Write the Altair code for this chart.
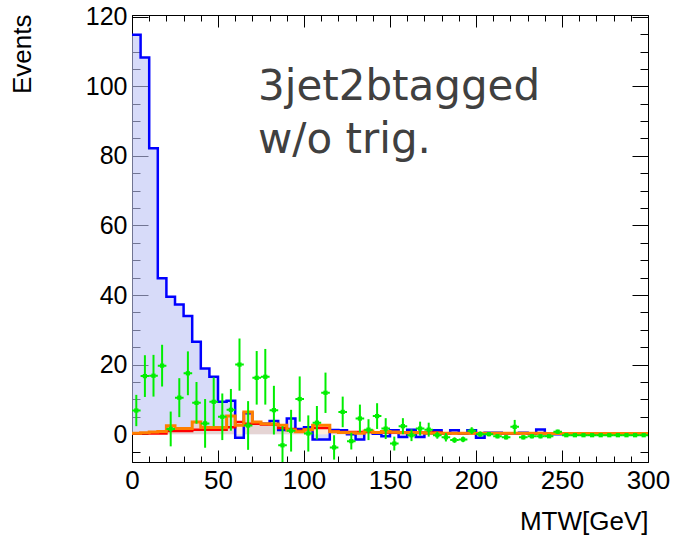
import altair as alt
import pandas as pd

# ---------------- data ----------------
bin_lo = list(range(0, 300, 5))  # 5 GeV bins, 0..300

blue = [114.8, 108.3, 82.2, 44.8, 39.5, 37.3, 34.0, 26.6, 18.9, 16.5,
        9.3, 9.6, -1.0, 6.0, 3.0, 3.0, 3.8, 1.2, 4.5, 1.5,
        2.0, -1.5, -1.5, 1.2, 1.15, 0.0, -1.5, 0.7, 0.1, -0.6,
        1.15, -0.8, 1.3, -0.8, 0.3, 1.15, 0.2, 1.15, 0.2, 1.15,
        -1.0, 0.4, 0.4, 0.2, 0.2, 0.4, 0.1, 1.35, 0.0, 0.0,
        0.0, 0.0, 0.0, 0.0, 0.0, 0.0, 0.0, 0.0, 0.0, 0.0]

orange = [0.3, 0.4, 0.6, 0.8, 2.4, 1.6, 1.6, 3.5, 1.9, 1.9,
          1.9, 5.2, 2.6, 6.4, 3.5, 3.0, 2.9, 2.6, 1.2, 0.7,
          1.3, 2.6, 2.6, 0.7, 0.5, 0.4, 0.3, 0.9, 0.5, 0.8,
          0.6, 0.4, 0.5, 0.4, 0.3, 0.3, 0.3, 0.3, 0.3, 0.3,
          0.3, 0.3, 0.3, 0.3, 0.3, 0.3, 0.3, 0.3, 0.2, 0.2,
          0.2, 0.2, 0.2, 0.2, 0.2, 0.2, 0.2, 0.2, 0.2, 0.2]

red = [0.2, 0.2, 0.2, 0.2, 0.9, 0.9, 0.9, 1.3, 1.3, 1.3,
       1.3, 2.0, 3.5, 3.0, 3.0, 2.8, 2.8, 1.8, 1.5, 1.0,
       1.3, 1.8, 1.8, 0.8, 0.6, 0.6, 0.6, 0.6, 0.5, 0.5,
       0.5, 0.5, 0.5, 0.5, 0.5, 0.5, 0.3, 0.3, 0.3, 0.3,
       0.3, 0.3, 0.3, 0.3, 0.3, 0.3, 0.3, 0.3, 0.2, 0.2,
       0.2, 0.2, 0.2, 0.2, 0.2, 0.2, 0.2, 0.2, 0.2, 0.2]

green = [6.8, 16.7, 16.8, 19.7, 1.5, 10.5, 17.5, 9.0, 3.1, 9.3,
         5.0, 7.0, 20.0, 2.5, 16.2, 16.5, 6.9, -3.2, 1.0, 10.1,
         0.2, 3.3, 11.9, -3.8, 6.4, -2.0, 4.5, 1.3, 5.2, 1.6,
         -2.7, 2.3, -0.3, 1.6, 1.3, -0.3, -0.9, -1.7, -1.5, 1.0,
         0.0, 0.0, -0.6, -0.9, 2.1, -0.9, -0.6, -0.6, -0.6, 0.7,
         -0.3, -0.3, -0.3, -0.3, -0.3, -0.3, -0.3, -0.3, -0.3, -0.3]

green_err = [4.5, 6.0, 6.0, 6.0, 5.0, 5.6, 6.3, 6.0, 7.0, 7.0,
             6.7, 6.0, 7.5, 7.0, 7.7, 8.0, 7.0, 5.5, 6.0, 6.5,
             5.2, 4.8, 5.8, 3.5, 4.4, 2.4, 4.0, 3.0, 3.7, 3.0,
             2.0, 2.3, 1.7, 2.0, 2.0, 1.0, 1.2, 0.8, 0.8, 1.0,
             0.8, 0.6, 0.6, 0.6, 2.0, 0.6, 0.6, 0.6, 0.5, 0.6,
             0.4, 0.4, 0.4, 0.4, 0.4, 0.4, 0.4, 0.4, 0.4, 0.4]

x_major = [0, 50, 100, 150, 200, 250, 300]
x_minor = list(range(0, 301, 10))
y_major = [0, 20, 40, 60, 80, 100, 120]
y_minor = list(range(-5, 121, 5))

annotation = ["3jet2btagged\nw/o trig."]

# ---------------- tables ----------------
bin_w = 5
edges = bin_lo + [300]
hist = pd.DataFrame({
    "x": edges,
    "blue": blue + [blue[-1]],
    "orange": orange + [orange[-1]],
    "red": red + [red[-1]],
})
pts = pd.DataFrame({
    "lo": bin_lo,
    "hi": [b + bin_w for b in bin_lo],
    "c": [b + bin_w / 2 for b in bin_lo],
    "v": green,
    "ylo": [v - e for v, e in zip(green, green_err)],
    "yhi": [v + e for v, e in zip(green, green_err)],
})

# ---------------- scales & axes ----------------
xs = alt.Scale(domain=[0, 300], nice=False, zero=False)
ys = alt.Scale(domain=[-8, 120.5], nice=False, zero=False)
FONT = "Liberation Sans"


def ax(orient, values, size, labels=False, **kw):
    return alt.Axis(orient=orient, values=values, tickSize=size, offset=-size,
                    domain=False, grid=False, labels=labels, tickColor="black",
                    tickWidth=1, **kw)


x_bot_major = ax("bottom", x_major, 12, labels=True, labelFont=FONT,
                 labelFontSize=26, labelColor="black", labelPadding=5,
                 labelFlush=False, labelOverlap=False,
                 title="MTW[GeV]", titleFont=FONT, titleFontSize=26,
                 titleFontWeight="normal", titleColor="black",
                 titleAlign="right", titleBaseline="alphabetic",
                 titleX=516, titleY=79, titleAngle=0)
y_left_major = ax("left", y_major, 16, labels=True, labelFont=FONT,
                  labelFontSize=25, labelColor="black", labelPadding=5,
                  labelFlush=False, labelOverlap=False,
                  title="Events", titleFont=FONT, titleFontSize=26,
                  titleFontWeight="normal", titleColor="black",
                  titleAngle=270, titleAlign="right",
                  titleBaseline="alphabetic", titleX=-118, titleY=-1)
x_bot_minor = ax("bottom", x_minor, 6, title=None)
y_left_minor = ax("left", y_minor, 8, title=None)
x_top_major = ax("top", x_major, 12, title=None)
y_right_major = ax("right", y_major, 16, title=None)
x_top_minor = ax("top", x_minor, 6, title=None)
y_right_minor = ax("right", y_minor, 8, title=None)

base = alt.Chart(hist)

blue_area = base.mark_area(interpolate="step-after", color="#bcc3f5",
                           opacity=0.6).encode(
    x=alt.X("x:Q", scale=xs, axis=x_bot_major),
    y=alt.Y("blue:Q", scale=ys, axis=y_left_major),
    y2=alt.datum(0),
)
orange_area = base.mark_area(interpolate="step-after", color="#ffc890",
                             opacity=0.35).encode(
    x=alt.X("x:Q", scale=xs, axis=None),
    y=alt.Y("orange:Q", scale=ys, axis=None),
    y2=alt.datum(0),
)
blue_line = base.mark_line(interpolate="step-after", color="#0000ff",
                           strokeWidth=2.5).encode(
    x=alt.X("x:Q", scale=xs, axis=x_bot_minor),
    y=alt.Y("blue:Q", scale=ys, axis=y_left_minor),
)
red_line = base.mark_line(interpolate="step-after", color="#ff0000",
                          strokeWidth=2.5).encode(
    x=alt.X("x:Q", scale=xs, axis=x_top_major),
    y=alt.Y("red:Q", scale=ys, axis=y_right_major),
)
orange_line = base.mark_line(interpolate="step-after", color="#ff7f00",
                             strokeWidth=3).encode(
    x=alt.X("x:Q", scale=xs, axis=x_top_minor),
    y=alt.Y("orange:Q", scale=ys, axis=y_right_minor),
)

gbase = alt.Chart(pts)
GREEN = "#00ee00"
g_vert = gbase.mark_rule(color=GREEN, strokeWidth=2, clip=True).encode(
    x=alt.X("c:Q", scale=xs, axis=None),
    y=alt.Y("ylo:Q", scale=ys, axis=None),
    y2="yhi:Q",
)
g_horiz = gbase.mark_rule(color=GREEN, strokeWidth=2, strokeDash=[3, 3],
                          clip=True).encode(
    x=alt.X("lo:Q", scale=xs, axis=None),
    x2="hi:Q",
    y=alt.Y("v:Q", scale=ys, axis=None),
)
g_pts = gbase.mark_square(color=GREEN, size=18, opacity=1, clip=True).encode(
    x=alt.X("c:Q", scale=xs, axis=None),
    y=alt.Y("v:Q", scale=ys, axis=None),
)

label = alt.Chart(pd.DataFrame({"t": annotation})).mark_text(
    align="left", baseline="alphabetic", font="DejaVu Sans", fontSize=42,
    color="#404040", lineBreak="\n", lineHeight=53,
).encode(text="t:N", x=alt.value(126), y=alt.value(85))

chart = alt.layer(
    blue_area, orange_area, blue_line, red_line, orange_line,
    g_vert, g_horiz, g_pts, label,
).resolve_axis(
    x="independent", y="independent"
).properties(
    width=516, height=447,
    padding={"left": 132, "top": 15, "right": 25, "bottom": 75},
    autosize=alt.AutoSizeParams(type="none"),
    background="white",
).configure_view(stroke="black", strokeWidth=1)

chart.save("out.html", embed_options={"renderer": "svg", "actions": False})
